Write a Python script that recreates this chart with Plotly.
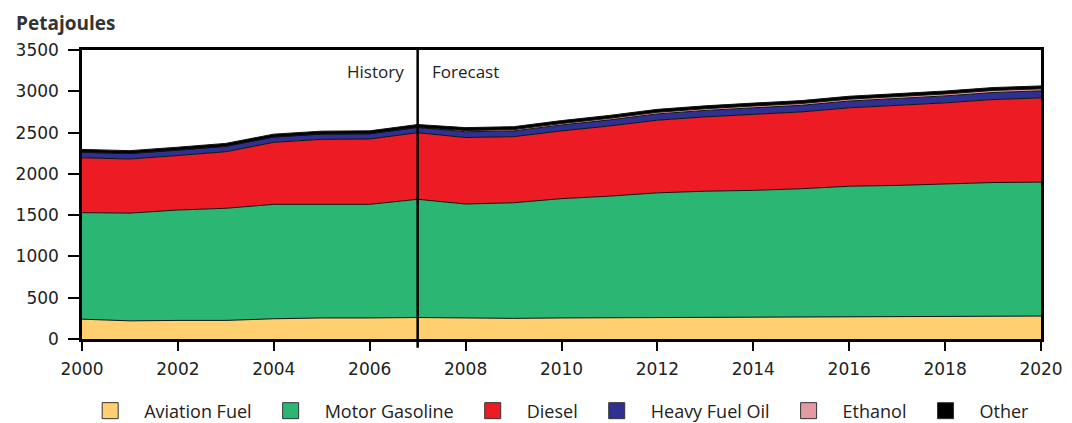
import plotly.graph_objects as go

years = list(range(2000, 2021))
aviation = [240, 220, 225, 225, 245, 255, 255, 260, 255, 250, 255, 258, 262, 265, 267, 268, 270, 272, 274, 276, 278]
gasoline_top = [1530, 1525, 1562, 1583, 1631, 1635, 1631, 1692, 1635, 1650, 1700, 1730, 1770, 1790, 1800, 1820, 1850, 1860, 1880, 1895, 1900]
diesel_top = [2195, 2180, 2222, 2268, 2382, 2418, 2422, 2498, 2440, 2450, 2520, 2580, 2650, 2690, 2720, 2750, 2800, 2830, 2860, 2900, 2920]
heavy_fuel_oil = [66, 66, 66, 66, 64, 64, 64, 64, 70, 70, 72, 74, 76, 78, 80, 80, 82, 82, 84, 85, 85]
ethanol = [0, 0, 0, 0, 0, 0, 0, 0, 15, 16, 18, 19, 20, 21, 22, 22, 23, 24, 24, 25, 25]
other = [35, 35, 35, 35, 35, 35, 35, 35, 35, 35, 35, 35, 35, 35, 35, 35, 35, 35, 35, 35, 35]

motor_gasoline = [g - a for g, a in zip(gasoline_top, aviation)]
diesel = [d - g for d, g in zip(diesel_top, gasoline_top)]

series = [
    ("Aviation Fuel", aviation, "#FFCF70"),
    ("Motor Gasoline", motor_gasoline, "#2BB673"),
    ("Diesel", diesel, "#ED1C24"),
    ("Heavy Fuel Oil", heavy_fuel_oil, "#2E3192"),
    ("Ethanol", ethanol, "#E39BA3"),
    ("Other", other, "#000000"),
]

FONT = "Open Sans"
TICKFONT = "DejaVu Sans"
NB = "\u00a0"

fig = go.Figure()
for name, vals, color in series:
    fig.add_trace(go.Scatter(
        x=years, y=vals, name=name, stackgroup="one", mode="lines",
        line=dict(color="#111111", width=1), fillcolor=color,
        showlegend=False, hoverinfo="x+y+name",
    ))
for name, vals, color in series:
    fig.add_trace(go.Scatter(
        x=[None], y=[None], name=NB * 3 + name + NB * 2 + NB, mode="markers",
        marker=dict(symbol="square", size=16, color=color, line=dict(color="#333333", width=1)),
        showlegend=True,
    ))

fig.add_shape(type="line", xref="x", yref="paper", x0=2007, x1=2007, y0=-0.03, y1=1,
              line=dict(color="black", width=2.5))

fig.add_annotation(x=2007, y=0.927, xref="x", yref="paper", text="History", showarrow=False,
                   xanchor="right", yanchor="middle", xshift=-12, font=dict(family=FONT, size=17, color="#222"))
fig.add_annotation(x=2007, y=0.927, xref="x", yref="paper", text="Forecast", showarrow=False,
                   xanchor="left", yanchor="middle", xshift=12, font=dict(family=FONT, size=17, color="#222"))
fig.add_annotation(x=0, y=1, xref="paper", yref="paper", text="<b>Petajoules</b>", showarrow=False,
                   xanchor="left", yanchor="top", xshift=-67, yshift=41, borderpad=0,
                   font=dict(family=FONT, size=19, color="#333"))

fig.update_layout(
    width=1064, height=415,
    margin=dict(l=74, r=31, t=42, b=84, autoexpand=False),
    paper_bgcolor="white", plot_bgcolor="white",
    font=dict(family=FONT, size=17, color="#222"),
    legend=dict(orientation="h", x=0.508, xanchor="center", yref="container", y=0.029, yanchor="middle",
                font=dict(family=FONT, size=18, color="#222"), itemwidth=30, traceorder="normal",
                bgcolor="rgba(0,0,0,0)"),
    xaxis=dict(range=[2000, 2020], tickmode="array", tickvals=list(range(2000, 2021, 2)),
               ticks="outside", ticklen=9, tickwidth=1.5, tickcolor="black",
               showline=True, linecolor="black", linewidth=2.5, mirror=True,
               showgrid=False, zeroline=False, automargin=False, ticklabelstandoff=4,
               tickfont=dict(family=TICKFONT, size=17, color="#222")),
    yaxis=dict(range=[0, 3500], tickmode="array", tickvals=list(range(0, 3501, 500)),
               ticks="outside", ticklen=11, tickwidth=1.5, tickcolor="black",
               showline=True, linecolor="black", linewidth=2.5, mirror=True,
               showgrid=False, zeroline=False, automargin=False, ticklabelstandoff=6,
               tickfont=dict(family=TICKFONT, size=17, color="#222")),
)

fig.write_html("out.html")
